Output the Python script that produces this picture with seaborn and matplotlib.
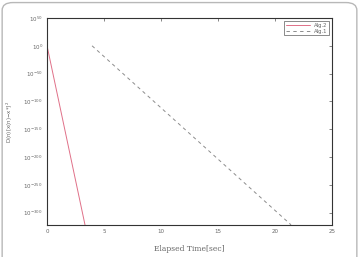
import matplotlib
matplotlib.use("Agg")
import matplotlib.pyplot as plt
import seaborn as sns
import pandas as pd
from matplotlib.patches import FancyBboxPatch

# data (log10 of the error measure)
alg2_time = [0.0, 3.33]
alg2_log = [0.0, -322.0]
alg1_time = [3.95, 21.4]
alg1_log = [0.0, -322.0]
xticks = [0, 5, 10, 15, 20, 25]
yticks = [50, 0, -50, -100, -150, -200, -250, -300]

df = pd.concat([
    pd.DataFrame({"t": alg2_time, "v": alg2_log, "alg": "Alg.2"}),
    pd.DataFrame({"t": alg1_time, "v": alg1_log, "alg": "Alg.1"}),
])

sns.set_style("white")
plt.rcParams['font.family'] = ['DejaVu Sans']

fig = plt.figure(figsize=(3.59, 2.57), dpi=100)
fig.patches.append(FancyBboxPatch((0.006, -0.2), 0.988, 1.19,
                                  boxstyle="round,pad=0,rounding_size=0.03",
                                  transform=fig.transFigure, fill=False,
                                  edgecolor="#b8b8b8", linewidth=1.0))
ax = fig.add_axes([0.131, 0.1245, 0.794, 0.8055])

sns.lineplot(data=df, x="t", y="v", hue="alg", style="alg",
             palette={"Alg.2": "#e07088", "Alg.1": "#8c8c8c"},
             dashes={"Alg.2": "", "Alg.1": (3.5, 3.5)},
             linewidth=0.7, ax=ax, legend=True)

ax.set_xlim(0, 25)
ax.set_ylim(-322.3, 50)
ax.set_xticks(xticks)
ax.set_xticklabels([str(x) for x in xticks], fontsize=4, color="#666666")
ax.set_yticks(yticks)
ax.set_yticklabels([f"$10^{{{y}}}$" for y in yticks], fontsize=4, color="#666666")
ax.tick_params(direction="in", length=2.5, width=0.5, top=True, right=True,
               colors="#555555", labelcolor="#666666", pad=3)
for s in ax.spines.values():
    s.set_color("#333333")
    s.set_linewidth(0.8)

ax.set_xlabel("Elapsed Time[sec]", fontsize=5.5, family="serif", color="#666666", labelpad=8)
ax.set_ylabel(r"D(n)[x(n)$-$x*]$^2$", fontsize=4, color="#666666", labelpad=6)

leg = ax.legend(loc="upper right", fontsize=3.8, frameon=True, fancybox=False,
                edgecolor="#333333", handlelength=4.5, borderpad=0.3,
                labelspacing=0.2, borderaxespad=0.6)
leg.get_frame().set_linewidth(0.5)
for t in leg.get_texts():
    t.set_color("#666666")

fig.savefig("out.png", dpi=100)
